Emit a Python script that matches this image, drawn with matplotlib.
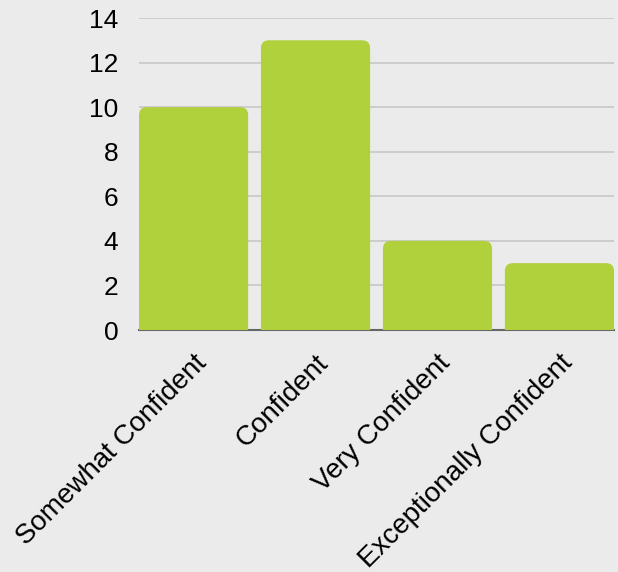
import matplotlib
matplotlib.use("Agg")
import matplotlib.pyplot as plt
from matplotlib.patches import FancyBboxPatch
import matplotlib.transforms as mtransforms

categories = ["Somewhat Confident", "Confident", "Very Confident", "Exceptionally Confident"]
values = [10, 13, 4, 3]
yticks = [0, 2, 4, 6, 8, 10, 12, 14]

plt.rcParams['font.family'] = ['Liberation Sans', 'DejaVu Sans']

bg = "#ebebeb"
bar_color = "#b0d03c"

fig = plt.figure(figsize=(6.18, 5.72), dpi=100, facecolor=bg)
ax = fig.add_axes([139/618, 1 - 330/572, 475/618, 312/572])
ax.set_facecolor(bg)

width = 0.895
xs = list(range(len(categories)))
ax.set_xlim(-width/2, len(categories) - 1 + width/2)
ax.set_ylim(0, 14)

# pixel scales
px_x = (len(categories) - 1 + width) / 475.0
px_y = 14 / 312.0
r_px = 8
for x, v in zip(xs, values):
    rs = r_px * px_x
    p = FancyBboxPatch((x - width/2, -1), width, v + 1,
                       boxstyle=f"round,pad=0,rounding_size={rs}",
                       mutation_aspect=px_y / px_x,
                       facecolor=bar_color, edgecolor="none", zorder=3)
    ax.add_patch(p)

ax.set_yticks(yticks)
ax.set_yticklabels([str(t) for t in yticks], fontsize=19)
ax.yaxis.grid(True, color="#c8c8c8", linewidth=1.2, zorder=0)
ax.set_axisbelow(True)
ax.tick_params(axis='y', length=0, pad=15)
ax.tick_params(axis='x', length=0, pad=0)

for s in ["top", "right", "left"]:
    ax.spines[s].set_visible(False)
ax.spines["bottom"].set_color("#666666")
ax.spines["bottom"].set_linewidth(1.5)
ax.spines["bottom"].set_zorder(1)

ax.set_xticks(xs)
ax.set_xticklabels(categories, rotation=45, ha='right', va='center',
                   rotation_mode='anchor', fontsize=20)
offset = mtransforms.ScaledTranslation(9/100, -29/100, fig.dpi_scale_trans)
for lab in ax.get_xticklabels():
    lab.set_transform(lab.get_transform() + offset)

fig.savefig("out.png", dpi=100, facecolor=bg)
